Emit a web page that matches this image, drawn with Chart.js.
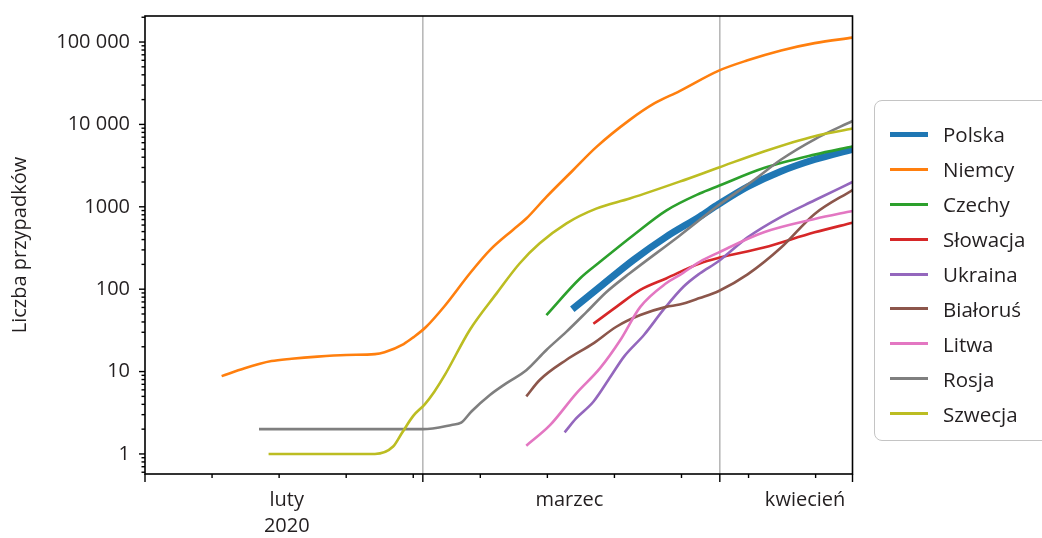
<!DOCTYPE html>
<html lang="pl">
<head>
<meta charset="utf-8">
<script src="https://cdn.jsdelivr.net/npm/chart.js@4.4.1/dist/chart.umd.min.js"></script>
<style>
  body { margin: 0; background: #fff; overflow: hidden; }
  #wrap { position: relative; width: 1042px; height: 538px; }
  #legenda {
    position: absolute; left: 874px; top: 100px; width: 200px; height: 341px;
    border: 1px solid #c4c4c4; border-radius: 8px; box-sizing: border-box;
    padding-top: 16px;
    font-family: "Open Sans", sans-serif; font-size: 20.5px; color: #231f20;
  }
  #legenda .wiersz { display: flex; align-items: center; height: 34.9px; }
  #legenda .probka { margin-left: 15px; width: 38px; margin-right: 15px; }
</style>
</head>
<body>
<div id="wrap">
  <canvas id="myChart" width="1042" height="538"></canvas>
  <div id="legenda"></div>
</div>
<script>
// dni liczone od 1 lutego 2020 (0 = 1 lutego, 29 = 1 marca, 60 = 1 kwietnia)
var kraje = ["Polska", "Niemcy", "Czechy", "Słowacja", "Ukraina", "Białoruś", "Litwa", "Rosja", "Szwecja"];
var kolory = ["#1f77b4", "#ff7f0e", "#2ca02c", "#d62728", "#9467bd", "#8c564b", "#e377c2", "#7f7f7f", "#bcbd22"];

var polska_dni = [44.6, 47.5, 51, 54.4, 57.9, 59.9, 62.9, 66.4, 69.9, 73.85];
var polska = [57, 107, 227, 432, 760, 1080, 1750, 2700, 3750, 5000];

var niemcy_dni = [8, 10.4, 13.2, 15.3, 18, 21, 24, 25, 27, 28, 29.3, 31.3, 33.9, 36, 38.4, 39.8, 41.9, 44.7, 47.1, 50.6, 53.2, 55.8, 59.9, 62.9, 66.4, 69.9, 73.85];
var niemcy = [8.8, 11, 13.4, 14.3, 15.2, 15.9, 16.3, 17.2, 21.6, 26, 34.5, 63, 155, 298, 524, 720, 1320, 2800, 5300, 11350, 18100, 25400, 45000, 60000, 79000, 97000, 113000];

var czechy_dni = [41.9, 45.4, 47.5, 51, 54.4, 57.9, 59.9, 64.6, 69.9, 73.85];
var czechy = [48.5, 135, 215, 455, 900, 1450, 1800, 2950, 4300, 5400];

var slowacja_dni = [46.8, 49.2, 51.7, 54.4, 57.9, 59.9, 64.6, 69.9, 73.85];
var slowacja = [38, 61, 98, 135, 205, 240, 320, 490, 640];

var ukraina_dni = [43.8, 45, 46.8, 48.6, 50, 52.1, 54.1, 56.2, 57.9, 59.9, 62.9, 66.4, 69.9, 73.85];
var ukraina = [1.83, 2.7, 4.3, 8.7, 15.2, 28, 56, 107, 155, 220, 425, 755, 1200, 2000];

var bialorus_dni = [39.8, 41.2, 44, 46.8, 49.2, 51.7, 54.4, 55.8, 57.9, 59.9, 62.9, 66.4, 69.9, 73.85];
var bialorus = [5.0, 7.9, 13.9, 22, 35, 48.5, 61, 65, 78, 95, 151, 320, 820, 1600];

var litwa_dni = [39.8, 42.3, 45, 47.5, 49.6, 51.7, 54.4, 55.8, 57.9, 59.9, 64.6, 69.9, 73.85];
var litwa = [1.26, 2.25, 5.4, 11, 24, 61, 118, 148, 215, 280, 490, 710, 890];

var rosja_dni = [11.9, 29, 32, 33, 34.1, 36, 37.7, 39.8, 41.9, 44, 46.1, 48.2, 50.6, 55.8, 59.9, 63.6, 66.4, 69.9, 73.85];
var rosja = [2, 2, 2.25, 2.4, 3.3, 5.2, 7.2, 10.4, 18.3, 30.5, 53, 93, 156, 446, 1050, 2130, 3750, 6600, 11000];

var szwecja_dni = [12.9, 24, 25.9, 26.8, 28, 29.2, 30.2, 31.3, 33.9, 36.7, 39.1, 41.2, 44, 47.1, 50.6, 55.8, 59.9, 64.6, 69.9, 73.85];
var szwecja = [1, 1, 1.23, 1.78, 2.9, 4.0, 5.7, 9.1, 32, 89, 205, 360, 630, 950, 1260, 2020, 3000, 4700, 7200, 8900];

var serie_dni = [polska_dni, niemcy_dni, czechy_dni, slowacja_dni, ukraina_dni, bialorus_dni, litwa_dni, rosja_dni, szwecja_dni];
var serie = [polska, niemcy, czechy, slowacja, ukraina, bialorus, litwa, rosja, szwecja];

// osie
var y_etykiety = [1, 10, 100, 1000, 10000, 100000];
var miesiace = [{dzien: 14.8, tekst: ["luty", "2020"]}, {dzien: 44.3, tekst: "marzec"}, {dzien: 68.9, tekst: "kwiecień"}];
var x_glowne = [0, 29, 60, 73.85];
var x_pomocnicze = [7, 14, 21, 28, 35, 42, 49, 56, 63, 70];
var linie_siatki = [29, 60];

// zestawy danych
var datasets = kraje.map(function (nazwa, i) {
    return {
        label: nazwa,
        data: serie_dni[i].map(function (d, j) { return {x: d, y: serie[i][j]}; }),
        borderColor: kolory[i],
        backgroundColor: kolory[i],
        borderWidth: i == 0 ? 7 : 2.6,
        pointRadius: 0,
        cubicInterpolationMode: 'monotone',
        order: kraje.length - i
    };
});

// legenda html
var legenda = document.getElementById('legenda');
kraje.forEach(function (nazwa, i) {
    var wiersz = document.createElement('div');
    wiersz.className = 'wiersz';
    var probka = document.createElement('span');
    probka.className = 'probka';
    probka.style.height = (i == 0 ? 5 : 3) + 'px';
    probka.style.background = kolory[i];
    var tekst = document.createElement('span');
    tekst.textContent = nazwa;
    wiersz.appendChild(probka);
    wiersz.appendChild(tekst);
    legenda.appendChild(wiersz);
});

// kreski podzialki, siatka i ramka
var osie_plugin = {
    id: 'osie',
    beforeDatasetsDraw: function (chart) {
        var ctx = chart.ctx, a = chart.chartArea, x = chart.scales.x;
        ctx.save();
        ctx.strokeStyle = '#b4b4b4';
        ctx.lineWidth = 1.5;
        linie_siatki.forEach(function (d) {
            var px = x.getPixelForValue(d);
            ctx.beginPath();
            ctx.moveTo(px, a.top);
            ctx.lineTo(px, a.bottom);
            ctx.stroke();
        });
        ctx.restore();
    },
    afterDraw: function (chart) {
        var ctx = chart.ctx, a = chart.chartArea, x = chart.scales.x, y = chart.scales.y;
        ctx.save();
        ctx.strokeStyle = '#000';
        ctx.lineWidth = 1.6;
        ctx.strokeRect(a.left, a.top, a.right - a.left, a.bottom - a.top);
        ctx.lineWidth = 1.4;
        function kreska(x1, y1, x2, y2) {
            ctx.beginPath();
            ctx.moveTo(x1, y1);
            ctx.lineTo(x2, y2);
            ctx.stroke();
        }
        x_glowne.forEach(function (d) {
            var px = x.getPixelForValue(d);
            kreska(px, a.bottom, px, a.bottom + 8);
        });
        x_pomocnicze.forEach(function (d) {
            var px = x.getPixelForValue(d);
            kreska(px, a.bottom, px, a.bottom + 4);
        });
        for (var k = -1; k <= 5; k++) {
            for (var m = 1; m <= 9; m++) {
                var v = m * Math.pow(10, k);
                if (v < y.min || v > y.max) continue;
                var py = y.getPixelForValue(v);
                kreska(a.left, py, a.left - (m == 1 ? 6 : 3.5), py);
            }
        }
        ctx.restore();
    }
};

var ctx = document.getElementById("myChart").getContext("2d");
var chart = new Chart(ctx, {
    type: "line",
    data: {datasets: datasets},
    plugins: [osie_plugin],
    options: {
        responsive: false,
        animation: false,
        devicePixelRatio: 1,
        layout: {padding: {top: 16, right: 189.5, bottom: 0, left: 0}},
        plugins: {legend: {display: false}, tooltip: {enabled: false}},
        scales: {
            x: {
                type: 'linear',
                min: 0,
                max: 73.85,
                bounds: 'data',
                grid: {display: false, drawTicks: false},
                border: {display: false},
                afterBuildTicks: function (scale) {
                    scale.ticks = miesiace.map(function (m) { return {value: m.dzien}; });
                },
                afterFit: function (scale) {
                    scale.height = 64;
                    scale.paddingLeft = 0;
                    scale.paddingRight = 0;
                },
                ticks: {
                    autoSkip: false,
                    maxRotation: 0,
                    padding: 13,
                    color: '#231f20',
                    font: {family: 'Open Sans', size: 20, lineHeight: 1.3},
                    callback: function (value, index) { return miesiace[index].tekst; }
                }
            },
            y: {
                type: 'logarithmic',
                min: 0.571,
                max: 207000,
                bounds: 'data',
                grid: {display: false, drawTicks: false},
                border: {display: false},
                afterBuildTicks: function (scale) {
                    scale.ticks = y_etykiety.map(function (v) { return {value: v}; });
                },
                afterFit: function (scale) {
                    scale.width = 145;
                    scale.paddingTop = 0;
                    scale.paddingBottom = 0;
                },
                title: {
                    display: true,
                    text: 'Liczba przypadków',
                    color: '#231f20',
                    font: {family: 'Open Sans', size: 20},
                    padding: {top: 8, bottom: 0}
                },
                ticks: {
                    padding: 15,
                    color: '#231f20',
                    font: {family: 'Open Sans', size: 20},
                    callback: function (value) {
                        if (value >= 10000) return String(value).replace(/(\d)(?=(\d{3})+$)/g, '$1 ');
                        return String(value);
                    }
                }
            }
        }
    }
});
</script>
</body>
</html>
